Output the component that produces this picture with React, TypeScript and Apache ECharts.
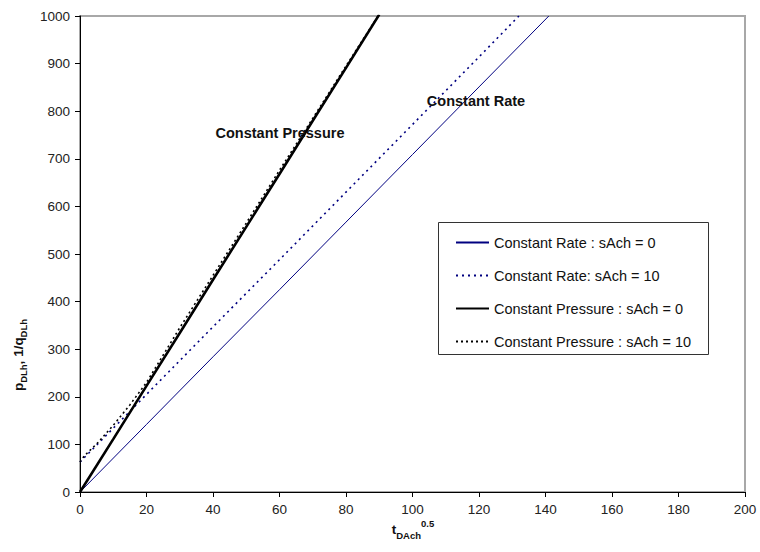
import React, { useEffect, useRef } from "react";
import * as echarts from "echarts";

const xTicks = [0, 20, 40, 60, 80, 100, 120, 140, 160, 180, 200];
const yTicks = [0, 100, 200, 300, 400, 500, 600, 700, 800, 900, 1000];

const seriesNames = [
  "Constant Rate : sAch = 0",
  "Constant Rate: sAch = 10",
  "Constant Pressure : sAch = 0",
  "Constant Pressure : sAch = 10",
];

const rateS0X = [0, 20, 40, 60, 80, 100, 120, 141];
const rateS0Y = [0, 142, 284, 425, 567, 709, 851, 1000];

const rateS10X = [0, 20, 40, 60, 80, 100, 120, 132];
const rateS10Y = [63, 205, 347, 488, 630, 772, 914, 1000];

const presS0X = [0, 10, 20, 30, 40, 50, 60, 70, 80, 90];
const presS0Y = [0, 111, 223, 334, 446, 557, 668, 780, 891, 1003];

const presS10X = [0, 1.3, 5, 10, 15, 20, 30, 40, 50, 60, 70, 80, 90];
const presS10Y = [63, 76, 101, 140, 183, 230, 345, 455, 565, 676, 785, 895, 1004];

const zip = (xs: number[], ys: number[]) => xs.map((x, i) => [x, ys[i]]);

const FONT = "'Liberation Sans', Arial, Helvetica, sans-serif";
const BLUE = "#000080";

export default function App() {
  const ref = useRef<HTMLDivElement>(null);
  useEffect(() => {
    if (!ref.current) return;
    const chart = echarts.init(ref.current, undefined, { renderer: "svg" });
    chart.setOption({
      animation: false,
      backgroundColor: "#ffffff",
      textStyle: { fontFamily: FONT },
      grid: {
        left: 80,
        right: 15,
        top: 16,
        bottom: 60,
        show: true,
        borderColor: "#a8a8a8",
        borderWidth: 2,
        backgroundColor: "transparent",
      },
      xAxis: {
        type: "value",
        min: 0,
        max: 200,
        interval: 20,
        axisLine: { show: true, lineStyle: { color: "#000", width: 1 } },
        axisTick: { show: true, length: 5, lineStyle: { color: "#000" } },
        splitLine: { show: false },
        axisLabel: {
          color: "#222",
          fontSize: 13.5,
          fontFamily: FONT,
          margin: 10,
          formatter: (v: number) => (xTicks.includes(v) ? String(v) : ""),
        },
      },
      yAxis: {
        type: "value",
        min: 0,
        max: 1000,
        interval: 100,
        axisLine: { show: true, lineStyle: { color: "#000", width: 1 } },
        axisTick: { show: true, length: 5, lineStyle: { color: "#000" } },
        splitLine: { show: false },
        axisLabel: {
          color: "#222",
          fontSize: 13.5,
          fontFamily: FONT,
          margin: 10,
          formatter: (v: number) => (yTicks.includes(v) ? String(v) : ""),
        },
      },
      legend: {
        orient: "vertical",
        left: 455,
        top: 235,
        padding: 0,
        itemWidth: 33,
        itemHeight: 14,
        itemGap: 18,
        itemStyle: { color: "transparent", borderColor: "transparent", borderWidth: 0, opacity: 0 },
        textStyle: { color: "#111", fontSize: 14.5, fontFamily: FONT, padding: [0, 0, 0, 0] },
        data: seriesNames,
        z: 10,
      },
      graphic: [
        {
          type: "rect",
          shape: { x: 438.5, y: 222.5, width: 270, height: 132 },
          style: { fill: "#fff", stroke: "#333", lineWidth: 1 },
          z: 5,
        },
        {
          type: "text",
          x: 280,
          y: 133,
          style: {
            text: "Constant Pressure",
            font: `bold 14.5px ${FONT}`,
            fill: "#111",
            textAlign: "center",
            textVerticalAlign: "middle",
          },
          z: 20,
        },
        {
          type: "text",
          x: 476,
          y: 101,
          style: {
            text: "Constant Rate",
            font: `bold 14.5px ${FONT}`,
            fill: "#111",
            textAlign: "center",
            textVerticalAlign: "middle",
          },
          z: 20,
        },
        {
          type: "text",
          x: 413,
          y: 529,
          style: {
            text: "{m|t}{s|DAch}{p|0.5}",
            textAlign: "center",
            textVerticalAlign: "middle",
            rich: {
              m: { font: `bold 13.5px ${FONT}`, fill: "#111", lineHeight: 22, verticalAlign: "middle" },
              s: { font: `bold 9.5px ${FONT}`, fill: "#111", lineHeight: 22, verticalAlign: "bottom" },
              p: { font: `bold 9.5px ${FONT}`, fill: "#111", lineHeight: 22, verticalAlign: "top" },
            },
          },
          z: 20,
        },
        {
          type: "text",
          x: 18,
          y: 355,
          rotation: Math.PI / 2,
          style: {
            text: "{m|p}{s|DLh}{m|, 1/q}{s|DLh}",
            textAlign: "center",
            textVerticalAlign: "middle",
            rich: {
              m: { font: `bold 13.5px ${FONT}`, fill: "#111", lineHeight: 20, verticalAlign: "middle" },
              s: { font: `bold 9.5px ${FONT}`, fill: "#111", lineHeight: 20, verticalAlign: "bottom" },
            },
          },
          z: 20,
        },
      ],
      series: [
        {
          name: seriesNames[0],
          type: "line",
          data: zip(rateS0X, rateS0Y),
          symbol: "none",
          lineStyle: { color: BLUE, width: 1 },
          itemStyle: { color: BLUE },
          z: 2,
        },
        {
          name: seriesNames[1],
          type: "line",
          data: zip(rateS10X, rateS10Y),
          symbol: "none",
          lineStyle: { color: BLUE, width: 1.6, type: [2, 4] },
          itemStyle: { color: BLUE },
          z: 2,
        },
        {
          name: seriesNames[2],
          type: "line",
          data: zip(presS0X, presS0Y),
          symbol: "none",
          lineStyle: { color: "#000", width: 2.6 },
          itemStyle: { color: "#000" },
          z: 3,
        },
        {
          name: seriesNames[3],
          type: "line",
          data: zip(presS10X, presS10Y),
          symbol: "none",
          lineStyle: { color: "#000", width: 1.6, type: [2, 3] },
          itemStyle: { color: "#000" },
          z: 3,
        },
      ],
    });
    return () => chart.dispose();
  }, []);
  return <div ref={ref} style={{ width: 760, height: 552, position: "absolute", left: 0, top: 0 }} />;
}
